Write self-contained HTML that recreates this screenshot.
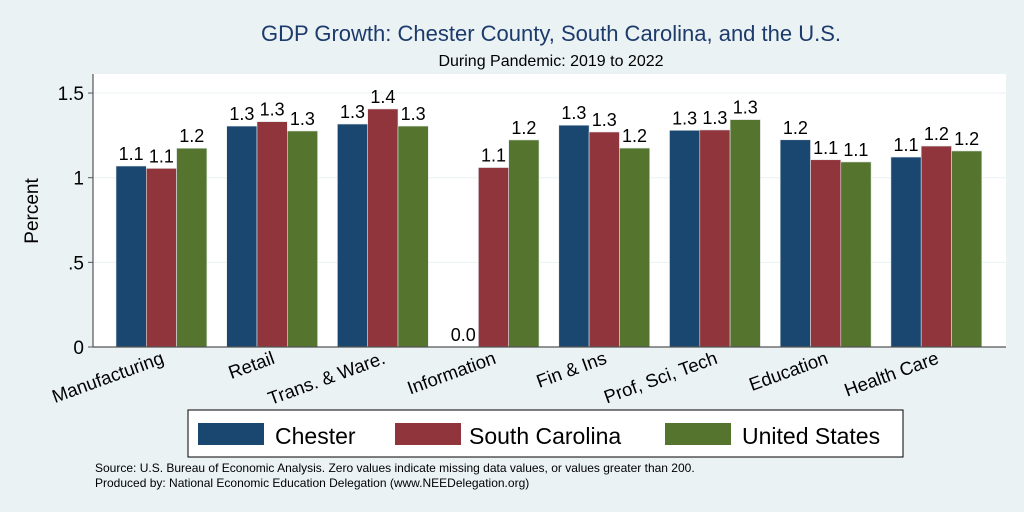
<!DOCTYPE html>
<html><head><meta charset="utf-8"><style>
body{margin:0;background:#eaf2f3;}
svg{display:block;font-family:"Liberation Sans",Arial,sans-serif;}
</style></head><body>
<svg id="chart" width="1024" height="512">
<rect x="0" y="0" width="1024" height="512" fill="#eaf2f3"/>
<text x="551" y="41" text-anchor="middle" font-size="22" fill="#1c3a6b">GDP Growth: Chester County, South Carolina, and the U.S.</text>
<text x="551" y="66" text-anchor="middle" font-size="16" fill="#000">During Pandemic: 2019 to 2022</text>
<rect x="93" y="74" width="913" height="273" fill="#fff"/>
<g id="grid"></g><g id="bars"></g><g id="axes"></g>
<text transform="translate(38,211) rotate(-90)" text-anchor="middle" font-size="19">Percent</text>
<rect x="188" y="410" width="715" height="47" fill="#fff" stroke="#000" stroke-width="1"/>
<g><rect x="198" y="423" width="66" height="22" fill="#1a476f"/><text x="275" y="444" font-size="23">Chester</text></g>
<g><rect x="395" y="423" width="66" height="22" fill="#90353b"/><text x="469" y="444" font-size="23">South Carolina</text></g>
<g><rect x="665" y="423" width="66" height="22" fill="#55752f"/><text x="742" y="444" font-size="23">United States</text></g>
<text x="95" y="472" font-size="12">Source: U.S. Bureau of Economic Analysis. Zero values indicate missing data values, or values greater than 200.</text>
<text x="95" y="487" font-size="12">Produced by: National Economic Education Delegation (www.NEEDelegation.org)</text>
</svg>
<script>
const categories=["Manufacturing","Retail","Trans. & Ware.","Information","Fin & Ins","Prof, Sci, Tech","Education","Health Care"];
const chester=[1.069,1.305,1.317,0,1.31,1.28,1.224,1.122];
const southCarolina=[1.055,1.331,1.406,1.06,1.27,1.282,1.106,1.187];
const unitedStates=[1.174,1.276,1.305,1.223,1.175,1.343,1.093,1.158];
const yTicks=[0,0.5,1,1.5];
const yTickLabels=["0",".5","1","1.5"];
const NS="http://www.w3.org/2000/svg";
const y0=347,pxPer=169.3,gx0=116,gStep=110.7,bw=30.3;
const yScale=v=>y0-v*pxPer;
const xBar=(i,s)=>gx0+i*gStep+s*bw;
function mk(t,a,p){const e=document.createElementNS(NS,t);for(const k in a)e.setAttribute(k,a[k]);p.appendChild(e);return e;}
const grid=document.getElementById('grid'),bars=document.getElementById('bars'),axes=document.getElementById('axes');
yTicks.forEach((v,i)=>{
 if(v>0){const g=mk('line',{x1:93,x2:1006,y1:yScale(v),y2:yScale(v),stroke:'#eaf2f3','stroke-width':1},grid);
 
 }
 const t=mk('line',{x1:88,x2:93,y1:yScale(v),y2:yScale(v),stroke:'#555'},axes);
 
 
 const l=mk('text',{x:84,y:yScale(v)+7,'text-anchor':'end','font-size':19},axes);l.textContent=yTickLabels[i];
 
 
});
const series=[chester,southCarolina,unitedStates],colors=['#1a476f','#90353b','#55752f'],names=['chester','south-carolina','united-states'];
categories.forEach((c,i)=>{
 series.forEach((s,j)=>{
  const v=s[i],x=xBar(i,j);
  if(v>0){const r=mk('rect',{x:x,y:yScale(v),width:bw,height:y0-yScale(v),fill:colors[j],stroke:'#e0e6ea','stroke-width':0.6},bars);
  
  }
  const t=mk('text',{x:x+bw/2,y:yScale(v)-6,'text-anchor':'middle','font-size':18},bars);t.textContent=v.toFixed(1);
  
  
 });
 const cx=gx0+i*gStep+46;
 const lab=mk('text',{transform:`translate(${cx+3},${363}) rotate(-20)`,'text-anchor':'end','font-size':18.5},axes);lab.textContent=c;
 
 
});
const ya=mk('line',{x1:93,x2:93,y1:74,y2:347,stroke:'#555','stroke-width':1.2},axes);


const xa=mk('line',{x1:93,x2:1006,y1:347,y2:347,stroke:'#555','stroke-width':1.2},axes);


</script>
</body></html>
